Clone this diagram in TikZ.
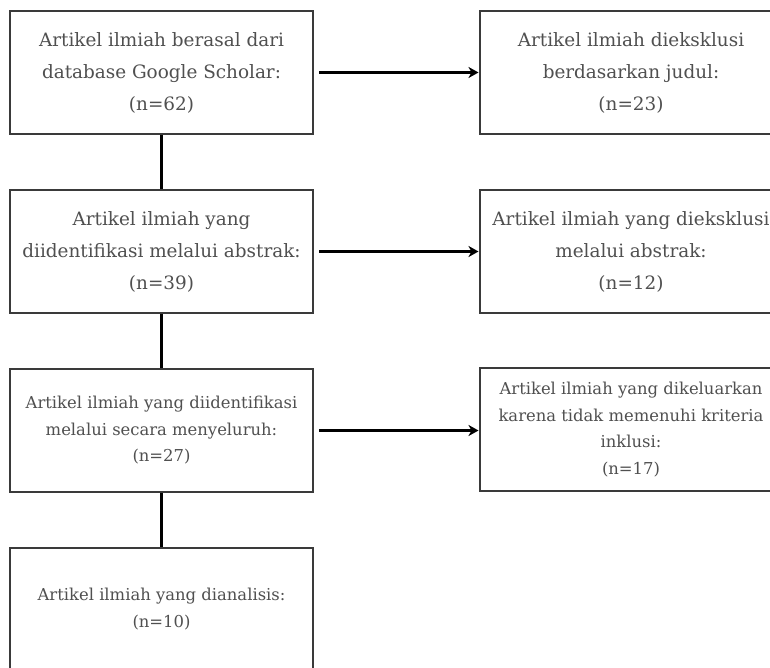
\documentclass[tikz,border=0pt]{standalone}
\usepackage{fontspec}
\setmainfont{DejaVu Serif}
\usetikzlibrary{arrows.meta}
\definecolor{txt}{HTML}{505050}
\definecolor{edge}{HTML}{3A3A3A}
\tikzset{
  box/.style={draw=edge, line width=2pt, rectangle, minimum width=303pt, minimum height=123pt, inner sep=0pt, align=center, text=txt},
  big/.style={font=\fontsize{18.4}{32}\selectfont},
  small/.style={font=\fontsize{16.4}{26.5}\selectfont},
  link/.style={line width=3pt, draw=black},
  arr/.style={line width=2.5pt, draw=black, -{Stealth[length=10pt,width=11pt,inset=3pt]}, shorten <=5pt}
}
\begin{document}
\begin{tikzpicture}[x=1pt,y=-1pt]
\useasboundingbox (0,0) rectangle (770,668);
\clip (0,0) rectangle (770,668);
\fill[white] (0,0) rectangle (770,668);
\node[box,big] (b1) at (161.5,72.5) {Artikel ilmiah berasal dari\\database Google Scholar:\\(n=62)};
\node[box,big] (b2) at (161.5,251.5) {Artikel ilmiah yang\\diidentifikasi melalui abstrak:\\(n=39)};
\node[box,small] (b3) at (161.5,430.5) {Artikel ilmiah yang diidentifikasi\\melalui secara menyeluruh:\\(n=27)};
\node[box,small] (b4) at (161.5,609) {Artikel ilmiah yang dianalisis:\\(n=10)};
\node[box,big] (r1) at (631,72.5) {Artikel ilmiah dieksklusi\\berdasarkan judul:\\(n=23)};
\node[box,big] (r2) at (631,251.5) {Artikel ilmiah yang dieksklusi\\melalui abstrak:\\(n=12)};
\node[box,small] (r3) at (631,429.5) {Artikel ilmiah yang dikeluarkan\\karena tidak memenuhi kriteria\\inklusi:\\(n=17)};
\draw[link] (b1.south) -- (b2.north);
\draw[link] (b2.south) -- (b3.north);
\draw[link] (b3.south) -- (b4.north);
\draw[arr] (b1.east) -- (b1.east -| r1.west);
\draw[arr] (b2.east) -- (b2.east -| r2.west);
\draw[arr] (b3.east) -- (b3.east -| r3.west);
\end{tikzpicture}
\end{document}
